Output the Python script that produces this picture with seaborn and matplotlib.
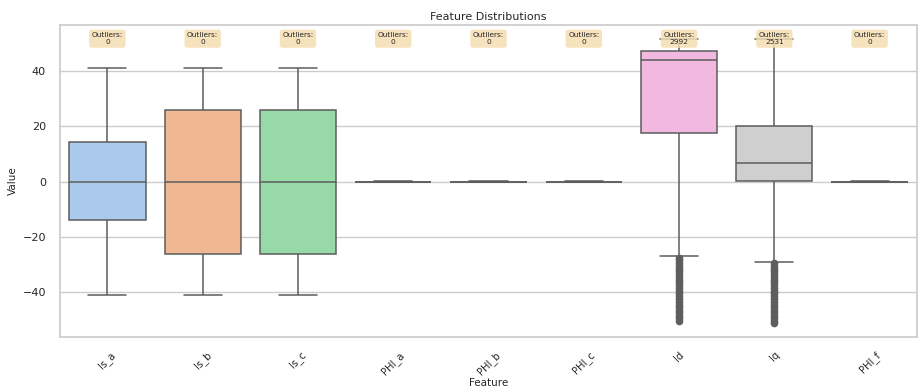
import numpy as np
import pandas as pd
import matplotlib
matplotlib.use("Agg")
import matplotlib.pyplot as plt
import seaborn as sns

# Feature names on the x axis
features = ["Is_a", "Is_b", "Is_c", "PHI_a", "PHI_b", "PHI_c", "Id", "Iq", "PHI_f"]

# Per-feature values: lower whisker, Q1, median, Q3, upper whisker
is_a = [-41.0, -14.0, 0.0, 14.3, 41.0]
is_b = [-41.0, -26.3, -0.3, 26.0, 41.0]
is_c = [-41.0, -26.3, 0.0, 26.0, 41.0]
phi_a = [-0.1, -0.05, 0.0, 0.05, 0.1]
phi_b = [-0.1, -0.05, 0.0, 0.05, 0.1]
phi_c = [-0.1, -0.05, 0.0, 0.05, 0.1]
id_vals = [-26.9, 17.5, 44.0, 47.4, 51.6]
iq_vals = [-29.0, 0.4, 6.7, 20.2, 51.6]
phi_f = [-0.1, -0.05, 0.0, 0.05, 0.1]

# Outlier points (dense columns below the lower whiskers)
id_outliers = [-27.5, -28.5, -29.5, -30.5, -31.5, -32.5, -33.5, -34.5, -35.5,
               -36.5, -37.5, -38.5, -39.5, -40.5, -41.5, -42.5, -43.5, -44.5,
               -45.5, -46.5, -47.5, -48.5, -49.5, -50.3]
iq_outliers = [-29.6, -30.5, -31.5, -32.5, -33.5, -34.5, -35.5, -36.5, -37.5,
               -38.5, -39.5, -40.5, -41.5, -42.5, -43.5, -44.5, -45.5, -46.5,
               -47.5, -48.5, -49.5, -50.5, -51.3]

# Outlier counts shown in the labels
outlier_counts = [0, 0, 0, 0, 0, 0, 2992, 2531, 0]

sns.set_theme(style="whitegrid")

series = [is_a, is_b, is_c, phi_a, phi_b, phi_c, id_vals, iq_vals, phi_f]
df = pd.DataFrame({
    "Feature": np.repeat(features, [len(s) for s in series]),
    "Value": np.concatenate(series),
})
out_df = pd.DataFrame({
    "Feature": ["Id"] * len(id_outliers) + ["Iq"] * len(iq_outliers),
    "Value": id_outliers + iq_outliers,
})

fig, ax = plt.subplots(figsize=(9.2, 3.87), dpi=100)
sns.boxplot(data=df, x="Feature", y="Value", hue="Feature", order=features,
            palette="pastel", whis=(0, 100), legend=False, linecolor="#5c5c5c",
            linewidth=1.1, ax=ax)
sns.stripplot(data=out_df, x="Feature", y="Value", order=features, jitter=False,
              color="#5e5e5e", size=5.5, linewidth=0, ax=ax)

for i, n in enumerate(outlier_counts):
    ax.text(i, 51.8, f"Outliers:\n{n}", ha="center", va="center", fontsize=5.3,
            zorder=5, bbox=dict(boxstyle="round,pad=0.35", facecolor="wheat",
                                edgecolor="none", alpha=0.85))

ax.set_ylim(-56.3, 56.7)
ax.set_title("Feature Distributions", fontsize=8, pad=4)
ax.set_xlabel("Feature", fontsize=7.5, labelpad=1)
ax.set_ylabel("Value", fontsize=7.5, labelpad=3)
ax.tick_params(axis="x", labelsize=7.2, pad=3)
ax.tick_params(axis="y", labelsize=8, pad=4)
plt.xticks(rotation=45)

fig.subplots_adjust(left=0.065, right=0.997, top=0.935, bottom=0.129)
fig.savefig("out.png", dpi=100)
